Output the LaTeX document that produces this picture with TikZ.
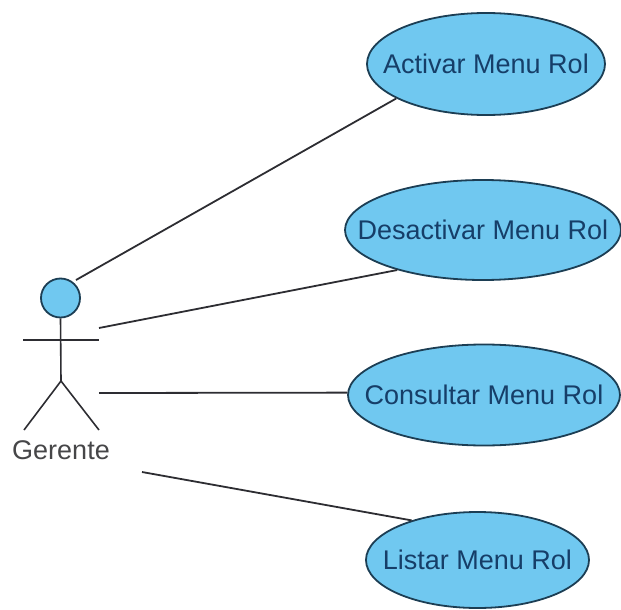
\documentclass[tikz,border=0pt]{standalone}
\usepackage{fontspec}
\setmainfont{Liberation Sans}
\usetikzlibrary{shapes.geometric}
\definecolor{ucfill}{RGB}{112,200,240}
\definecolor{ucline}{RGB}{28,62,84}
\definecolor{uctext}{RGB}{22,62,104}
\definecolor{stickline}{RGB}{45,45,50}
\newcommand{\uclabel}[1]{\makebox[0pt][c]{#1}}
\tikzset{
 uc/.style={ellipse,draw=ucline,line width=1.8pt,fill=ucfill,inner sep=0pt,text=uctext,font=\fontsize{27pt}{30pt}\selectfont},
 conn/.style={draw=stickline,line width=1.8pt},
 stick/.style={draw=stickline,line width=1.6pt}
}
\begin{document}
\begin{tikzpicture}[x=1pt,y=-1pt]
\useasboundingbox (0,0) rectangle (621,610);
\node[uc,minimum width=238pt,minimum height=102pt] (a) at (486,64) {\uclabel{Activar Menu Rol}};
\node[uc,minimum width=276pt,minimum height=100pt] (d) at (483,230) {\uclabel{Desactivar Menu Rol}};
\node[uc,minimum width=272pt,minimum height=101pt] (c) at (484,395) {\uclabel{Consultar Menu Rol}};
\node[uc,minimum width=223pt,minimum height=96pt] (l) at (477.5,560) {\uclabel{Listar Menu Rol}};
\node[circle,draw=ucline,line width=1.8pt,fill=ucfill,minimum size=39pt,inner sep=0pt] (head) at (60.5,298) {};
\coordinate (hipc) at (61,381);
\coordinate (al) at (23,340);
\coordinate (ar) at (99,340);
\coordinate (fl) at (24,430);
\coordinate (fr) at (99,430);
\draw[stick] (head.south) -- (hipc);
\draw[stick] (al) -- (ar);
\draw[stick] (fl) -- (hipc) -- (fr);
\node[font=\fontsize{27pt}{30pt}\selectfont,inner sep=0pt,text={rgb,255:red,70;green,70;blue,72}] (g) at (61,450) {Gerente};
\coordinate (s1) at (76,280);
\coordinate (s2) at (99,328);
\coordinate (s3) at (99,393);
\coordinate (s4) at (142,472);
\draw[conn] (s1) -- (a.201);
\draw[conn] (s2) -- (d.205);
\draw[conn] (s3) -- (c.179);
\draw[conn] (s4) -- (l.149);
\end{tikzpicture}
\end{document}
